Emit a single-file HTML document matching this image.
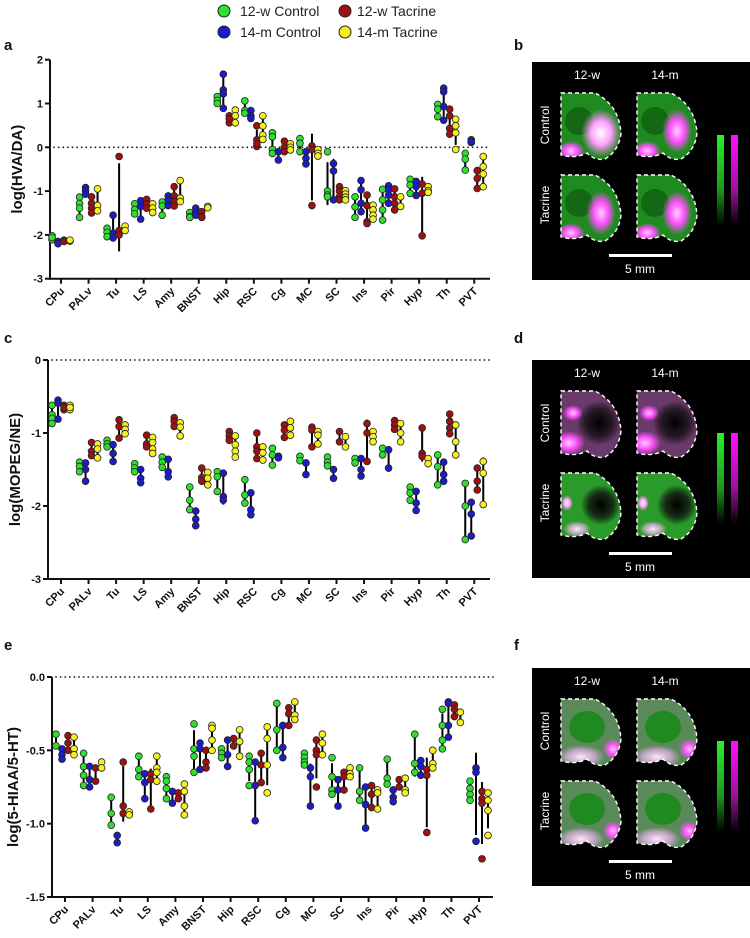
<!DOCTYPE html>
<html><head><meta charset="utf-8"><style>
html,body{margin:0;padding:0;background:#fff;}
svg{display:block;font-family:"Liberation Sans",Arial,sans-serif;}
</style></head><body>
<svg id="fig" width="750" height="938" viewBox="0 0 750 938" xmlns="http://www.w3.org/2000/svg">
<defs>
<linearGradient id="gGreen" x1="0" y1="0" x2="0" y2="1"><stop offset="0" stop-color="#2af02a"/><stop offset="0.6" stop-color="#1a9a1a"/><stop offset="1" stop-color="#000"/></linearGradient>
<linearGradient id="gMag" x1="0" y1="0" x2="0" y2="1"><stop offset="0" stop-color="#ff10ff"/><stop offset="0.6" stop-color="#a010a0"/><stop offset="1" stop-color="#000"/></linearGradient>
<radialGradient id="rMag"><stop offset="0" stop-color="#ffd0ff"/><stop offset="0.5" stop-color="#ff50ff"/><stop offset="1" stop-color="#ff50ff" stop-opacity="0"/></radialGradient>
<radialGradient id="rMagW"><stop offset="0" stop-color="#ffffff"/><stop offset="0.5" stop-color="#ffa0ff"/><stop offset="1" stop-color="#ff80ff" stop-opacity="0"/></radialGradient>
<radialGradient id="rDark"><stop offset="0" stop-color="#000"/><stop offset="0.6" stop-color="#111" stop-opacity="0.8"/><stop offset="1" stop-color="#000" stop-opacity="0"/></radialGradient>
<radialGradient id="rPinkW"><stop offset="0" stop-color="#ffe8ff"/><stop offset="0.6" stop-color="#e8b0e8" stop-opacity="0.7"/><stop offset="1" stop-color="#e0a0e0" stop-opacity="0"/></radialGradient>
</defs>
<g font-size="14" fill="#222">
<circle cx="224" cy="11" r="6" fill="#2ee02e" stroke="#222" stroke-width="1"/><text x="240" y="16">12-w Control</text>
<circle cx="345" cy="11" r="6" fill="#a01010" stroke="#222" stroke-width="1"/><text x="357" y="16">12-w Tacrine</text>
<circle cx="224" cy="32" r="6" fill="#1c1ccc" stroke="#222" stroke-width="1"/><text x="240" y="37">14-m Control</text>
<circle cx="345" cy="32" r="6" fill="#f5f01e" stroke="#222" stroke-width="1"/><text x="357" y="37">14-m Tacrine</text>
</g>
<g font-weight="bold" font-size="15" fill="#111">
<text x="4" y="50">a</text>
<text x="4" y="343">c</text>
<text x="4" y="650">e</text>
<text x="514" y="50">b</text>
<text x="514" y="343">d</text>
<text x="514" y="650">f</text>
</g>
<g id="charts"></g>
<g id="images"></g>
</svg>
<script>
const regions = ["CPu","PALv","Tu","LS","Amy","BNST","Hip","RSC","Cg","MC","SC","Ins","Pir","Hyp","Th","PVT"];
const seriesColors = ["#2ee02e","#1c1ccc","#a01010","#f5f01e"];
const seriesNames = ["12w-control","14m-control","12w-tacrine","14m-tacrine"];

// Panel a: log(HVA/DA)
const hvaG = [[-2.02,-2.11,-2.06],[-1.14,-1.28,-1.39,-1.6],[-1.85,-1.94,-2.04],[-1.29,-1.42,-1.52],[-1.25,-1.34,-1.55],[-1.49,-1.58,-1.6],[1.16,1.07,1.0],[1.06,0.84,0.78],[0.33,0.24,-0.05,-0.14],[0.2,0.09,-0.1],[-0.1,-1.0,-1.09,-1.13],[-1.13,-1.36,-1.6],[-0.96,-1.2,-1.43,-1.66],[-0.73,-0.86,-1.05],[0.98,0.87,0.7],[-0.14,-0.27,-0.52]];
const hvaB = [[-2.15,-2.2],[-0.92,-0.99,-1.07],[-1.55,-1.96,-2.07],[-1.22,-1.35,-1.64],[-1.11,-1.2,-1.33],[-1.39,-1.49,-1.55],[1.67,1.31,1.22,0.89],[0.84,0.72,0.66],[-0.1,-0.29],[-0.1,-0.25,-0.38],[-0.37,-0.54,-1.2],[-0.76,-0.97,-1.28,-1.47],[-0.88,-0.97,-1.09,-1.28],[-0.78,-0.9,-1.1],[1.35,1.27,0.93,0.62],[0.17,0.11,0.13]];
const hvaR = [[-2.12,-2.15],[-1.13,-1.28,-1.39,-1.5],[-0.21,-1.9,-2.0],[-1.19,-1.29,-1.39],[-0.9,-1.11,-1.24,-1.34],[-1.47,-1.58,-1.6],[0.72,0.56,0.65],[0.49,0.17,0.02,0.08],[0.14,0,-0.1],[0.03,-0.05,-1.33],[-0.9,-1.0,-1.13,-1.2],[-1.09,-1.33,-1.7,-1.74],[-0.95,-1.13,-1.28,-1.43],[-0.84,-1.05,-2.02],[0.87,0.72,0.43,0.3],[-0.53,-0.71,-0.94]];
const hvaY = [[-2.14,-2.12],[-0.95,-1.33,-1.45],[-1.8,-1.9],[-1.29,-1.39,-1.49],[-0.76,-1.16,-1.24],[-1.35,-1.38],[0.85,0.72,0.56],[0.72,0.49,0.28,0.18],[0.08,0,-0.06],[-0.05,-0.14,-0.2],[-0.99,-1.07,-1.14,-1.2],[-1.32,-1.43,-1.55,-1.64],[-1.13,-1.35],[-0.9,-0.99,-1.03],[0.64,0.49,0.33,-0.05],[-0.21,-0.44,-0.61,-0.9]];
const hvaTicks = ["2","1","0","-1","-2","-3"];

// Panel c: log(MOPEG/NE)
const mopG = [[-0.62,-0.75,-0.8,-0.87],[-1.4,-1.46,-1.53],[-1.1,-1.15,-1.19],[-1.42,-1.48,-1.53],[-1.33,-1.4,-1.47],[-1.74,-1.92,-2.05],[-1.53,-1.6,-1.8],[-1.64,-1.85,-1.96],[-1.21,-1.3,-1.44],[-1.32,-1.38],[-1.33,-1.4,-1.45],[-1.35,-1.41],[-1.21,-1.3],[-1.74,-1.82,-1.92],[-1.3,-1.46,-1.71],[-1.69,-2.0,-2.46]];
const mopB = [[-0.55,-0.59,-0.81],[-1.41,-1.5,-1.66],[-1.16,-1.28,-1.39],[-1.5,-1.62,-1.68],[-1.36,-1.53,-1.6],[-2.07,-2.18,-2.27],[-1.55,-1.87,-1.92],[-1.82,-2.05,-2.12],[-1.32,-1.34],[-1.41,-1.57],[-1.5,-1.62],[-1.35,-1.5,-1.59],[-1.23,-1.48],[-1.8,-1.96,-2.06],[-1.4,-1.57,-1.66],[-1.95,-2.11,-2.41]];
const mopR = [[-0.62,-0.68,-0.65],[-1.13,-1.25,-1.31],[-0.82,-0.91,-1.07],[-1.03,-1.15,-1.19],[-0.79,-0.84,-0.91],[-1.48,-1.61,-1.66],[-0.98,-1.04,-1.1],[-1.0,-1.19,-1.25,-1.35],[-0.89,-0.96,-1.06],[-0.92,-0.96,-1.19],[-0.98,-1.12],[-0.87,-1.0,-1.39],[-0.83,-0.89,-0.95],[-0.93,-1.28,-1.32],[-0.74,-0.84,-0.93,-1.01],[-1.48,-1.66,-1.78]];
const mopY = [[-0.62,-0.68,-0.65],[-1.15,-1.22,-1.34],[-0.89,-0.95,-1.01],[-1.06,-1.13,-1.22,-1.28],[-0.86,-0.92,-1.04],[-1.54,-1.62,-1.71],[-1.04,-1.16,-1.25,-1.33],[-1.19,-1.27,-1.37],[-0.84,-0.93,-1.03],[-0.98,-1.03,-1.15],[-1.05,-1.19],[-0.98,-1.05,-1.12],[-0.87,-1.0,-1.12],[-1.35,-1.42],[-0.89,-1.12,-1.3],[-1.39,-1.55,-1.98]];
const mopTicks = ["0","-1","-2","-3"];

// Panel e: log(5-HIAA/5-HT)
const hiaG = [[-0.39,-0.47],[-0.52,-0.61,-0.67,-0.74],[-0.82,-0.93,-1.01],[-0.54,-0.63,-0.68],[-0.68,-0.71,-0.76,-0.83],[-0.32,-0.49,-0.54,-0.65],[-0.49,-0.52,-0.55],[-0.54,-0.58,-0.63,-0.74],[-0.18,-0.36,-0.5],[-0.52,-0.55,-0.58,-0.6],[-0.55,-0.68,-0.77,-0.8],[-0.62,-0.78,-0.84],[-0.56,-0.69,-0.73],[-0.39,-0.59,-0.65],[-0.22,-0.33,-0.43,-0.49],[-0.71,-0.76,-0.8,-0.84]];
const hiaB = [[-0.49,-0.53,-0.56],[-0.61,-0.7,-0.75],[-1.08,-1.13],[-0.66,-0.72,-0.83],[-0.78,-0.86],[-0.45,-0.49,-0.63],[-0.43,-0.53,-0.61],[-0.58,-0.74,-0.98],[-0.33,-0.48,-0.55],[-0.62,-0.68,-0.88],[-0.7,-0.77,-0.88],[-0.75,-0.87,-1.03],[-0.77,-0.82,-0.85],[-0.57,-0.61,-0.67],[-0.17,-0.18,-0.33,-0.41],[-0.62,-0.65,-1.12]];
const hiaR = [[-0.4,-0.45,-0.5],[-0.62,-0.71],[-0.58,-0.88,-0.93],[-0.66,-0.7,-0.9],[-0.79,-0.83],[-0.5,-0.58,-0.62],[-0.42,-0.47],[-0.52,-0.6,-0.72],[-0.21,-0.25,-0.33],[-0.43,-0.5,-0.53,-0.75],[-0.65,-0.68,-0.77],[-0.74,-0.8,-0.89],[-0.7,-0.75],[-0.63,-0.67,-1.06],[-0.19,-0.22,-0.27],[-0.78,-0.83,-0.86,-1.24]];
const hiaY = [[-0.41,-0.49,-0.53],[-0.58,-0.62],[-0.92,-0.94],[-0.54,-0.62,-0.65,-0.71],[-0.73,-0.78,-0.88,-0.94],[-0.33,-0.35,-0.43,-0.5],[-0.36,-0.44,-0.54],[-0.34,-0.42,-0.6,-0.79],[-0.17,-0.26,-0.29],[-0.39,-0.45,-0.53],[-0.62,-0.66,-0.68],[-0.77,-0.79,-0.9],[-0.69,-0.77,-0.79],[-0.5,-0.59,-0.62],[-0.24,-0.31],[-0.79,-0.84,-0.91,-1.08]];
const hiaTicks = ["0.0","-0.5","-1.0","-1.5"];

const NS = "http://www.w3.org/2000/svg";
function mk(tag, attrs, parent){ const e=document.createElementNS(NS,tag); for(const k in attrs) e.setAttribute(k,attrs[k]); if(parent) parent.appendChild(e); return e; }

function drawChart(cfg){
  const root = document.getElementById('charts');
  const g = mk('g',{},root);
  
  
  const yScale = v => cfg.yTop + (cfg.vTop - v) / (cfg.vTop - cfg.vBot) * (cfg.yBot - cfg.yTop);
  const xScale = i => cfg.x0 + i * cfg.dx;
  const zl = mk('line',{x1:cfg.axisX+4,x2:cfg.xEnd,y1:yScale(0),y2:yScale(0),stroke:'#222','stroke-width':1.8,'stroke-dasharray':'0.1 4.5','stroke-linecap':'round'},g);
  
  
  const ya = mk('line',{x1:cfg.axisX,x2:cfg.axisX,y1:cfg.yTop,y2:cfg.yBot+1,stroke:'#111','stroke-width':2},g);
  
  
  const xa = mk('line',{x1:cfg.axisX-1,x2:cfg.xEnd,y1:cfg.yBot,y2:cfg.yBot,stroke:'#111','stroke-width':2},g);
  
  
  cfg.ticks.forEach(t=>{
    const v = parseFloat(t); const y = yScale(v);
    mk('line',{x1:cfg.axisX-5,x2:cfg.axisX,y1:y,y2:y,stroke:'#111','stroke-width':2},g);
    const tl = mk('text',{x:cfg.axisX-7,y:y+4,'text-anchor':'end','font-size':11,'font-weight':'bold',fill:'#111'},g);
    tl.textContent = t;
    
    
  });
  const yt = mk('text',{x:0,y:0,transform:`translate(${cfg.titleX},${(cfg.yTop+cfg.yBot)/2}) rotate(-90)`,'text-anchor':'middle','font-size':15,'font-weight':'bold',fill:'#111'},g);
  yt.textContent = cfg.yTitle;
  
  
  regions.forEach((r,i)=>{
    const x = xScale(i);
    mk('line',{x1:x,x2:x,y1:cfg.yBot,y2:cfg.yBot+5,stroke:'#111','stroke-width':2},g);
    const lb = mk('text',{x:0,y:0,transform:`translate(${x+4},${cfg.yBot+13}) rotate(-45)`,'text-anchor':'end','font-size':11,'font-weight':'bold',fill:'#111'},g);
    lb.textContent = r;
    
    
  });
  const offs = [-9,-3,3,9];
  cfg.series.forEach((ser,s)=>{
    const sg = mk('g',{},g);
    
    
    ser.forEach((pts,i)=>{
      const x = xScale(i)+offs[s];
      const m = pts.reduce((a,b)=>a+b,0)/pts.length;
      const sd = Math.sqrt(pts.reduce((a,b)=>a+(b-m)*(b-m),0)/Math.max(1,pts.length-1));
      const eb = mk('line',{x1:x,x2:x,y1:yScale(m+sd),y2:yScale(m-sd),stroke:'#000','stroke-width':2},sg);
      
      
      pts.forEach(v=>{
        const c = mk('circle',{cx:x,cy:yScale(v),r:3.4,fill:seriesColors[s],stroke:'#222','stroke-width':0.8},sg);
        
        
      });
    });
  });
}

drawChart({name:'chart-hva-da',yTitle:'log(HVA/DA)',titleX:22,axisX:50,xEnd:490,yTop:59.7,yBot:278.7,vTop:2,vBot:-3,x0:61,dx:27.55,ticks:hvaTicks,series:[hvaG,hvaB,hvaR,hvaY]});
drawChart({name:'chart-mopeg-ne',yTitle:'log(MOPEG/NE)',titleX:20,axisX:48,xEnd:490,yTop:360,yBot:579,vTop:0,vBot:-3,x0:61,dx:27.55,ticks:mopTicks,series:[mopG,mopB,mopR,mopY]});
drawChart({name:'chart-5hiaa-5ht',yTitle:'log(5-HIAA/5-HT)',titleX:18,axisX:52,xEnd:493,yTop:677,yBot:897,vTop:0,vBot:-1.5,x0:65,dx:27.6,ticks:hiaTicks,series:[hiaG,hiaB,hiaR,hiaY]});

const brainPath = "M0,0 L34,0 Q58,12 60,40 Q58,58 44,66 Q34,68 26,60 Q14,66 0,62 Z";
function brain(parent, tx, ty, style){
  const g = mk('g',{transform:`translate(${tx},${ty})`},parent);
  
  
  const id = 'clip'+Math.round(tx)+'_'+Math.round(ty);
  const cp = mk('clipPath',{id:id},g); mk('path',{d:brainPath},cp);
  const cg = mk('g',{'clip-path':`url(#${id})`},g);
  if(style==='b'){
    mk('rect',{x:0,y:0,width:62,height:70,fill:'#1f8a1f'},cg);
    mk('ellipse',{cx:18,cy:28,rx:14,ry:14,fill:'#146814'},cg);
    mk('ellipse',{cx:40,cy:40,rx:20,ry:24,fill:'url(#rMagW)'},cg);
    mk('ellipse',{cx:10,cy:58,rx:14,ry:10,fill:'url(#rMag)'},cg);
  } else if(style==='b2'){
    mk('rect',{x:0,y:0,width:62,height:70,fill:'#1f8a1f'},cg);
    mk('ellipse',{cx:18,cy:28,rx:14,ry:14,fill:'#146814'},cg);
    mk('ellipse',{cx:40,cy:38,rx:15,ry:22,fill:'url(#rMag)'},cg);
    mk('ellipse',{cx:10,cy:58,rx:14,ry:10,fill:'url(#rMag)'},cg);
  } else if(style==='dc'){
    mk('rect',{x:0,y:0,width:62,height:70,fill:'#6a3a6a'},cg);
    mk('ellipse',{cx:38,cy:32,rx:22,ry:22,fill:'url(#rDark)'},cg);
    mk('ellipse',{cx:8,cy:52,rx:16,ry:12,fill:'url(#rMag)'},cg);
    mk('ellipse',{cx:12,cy:22,rx:10,ry:8,fill:'url(#rMag)'},cg);
  } else if(style==='dt'){
    mk('rect',{x:0,y:0,width:62,height:70,fill:'#2a9a2a'},cg);
    mk('ellipse',{cx:40,cy:32,rx:20,ry:20,fill:'url(#rDark)'},cg);
    mk('ellipse',{cx:6,cy:30,rx:6,ry:8,fill:'url(#rMagW)'},cg);
    mk('ellipse',{cx:16,cy:56,rx:14,ry:8,fill:'url(#rPinkW)'},cg);
  } else {
    mk('rect',{x:0,y:0,width:62,height:70,fill:'#5a8a5a'},cg);
    mk('ellipse',{cx:26,cy:28,rx:18,ry:16,fill:'#1f8a1f'},cg);
    mk('ellipse',{cx:20,cy:58,rx:24,ry:12,fill:'url(#rPinkW)'},cg);
    mk('ellipse',{cx:52,cy:50,rx:10,ry:10,fill:'url(#rMag)'},cg);
  }
  mk('path',{d:brainPath,fill:'none',stroke:'#fff','stroke-width':1.4,'stroke-dasharray':'4 3'},g);
}
function imgPanel(y0, name, styles){
  const root = document.getElementById('images');
  const g = mk('g',{},root);
  
  
  mk('rect',{x:532,y:y0,width:218,height:218,fill:'#000'},g);
  const t1 = mk('text',{x:587,y:y0+17,'text-anchor':'middle','font-size':12,fill:'#fff'},g); t1.textContent='12-w';
   
  const t2 = mk('text',{x:665,y:y0+17,'text-anchor':'middle','font-size':12,fill:'#fff'},g); t2.textContent='14-m';
   
  const r1 = mk('text',{transform:`translate(549,${y0+63}) rotate(-90)`,'text-anchor':'middle','font-size':12,fill:'#fff'},g); r1.textContent='Control';
   
  const r2 = mk('text',{transform:`translate(549,${y0+143}) rotate(-90)`,'text-anchor':'middle','font-size':12,fill:'#fff'},g); r2.textContent='Tacrine';
   
  brain(g,561,y0+31,styles[0]); brain(g,637,y0+31,styles[1]);
  brain(g,561,y0+113,styles[2]); brain(g,637,y0+113,styles[3]);
  const cb1 = mk('rect',{x:717,y:y0+73,width:7,height:91,fill:'url(#gGreen)'},g);
   
  const cb2 = mk('rect',{x:731,y:y0+73,width:7,height:91,fill:'url(#gMag)'},g);
   
  const sb = mk('rect',{x:609,y:y0+192,width:63,height:3,fill:'#fff'},g);
   
  const st = mk('text',{x:640,y:y0+211,'text-anchor':'middle','font-size':12,fill:'#fff'},g); st.textContent='5 mm';
   
}
imgPanel(62,'image-panel-b-hva-da',['b','b2','b2','b2']);
imgPanel(360,'image-panel-d-mopeg-ne',['dc','dc','dt','dt']);
imgPanel(668,'image-panel-f-5hiaa-5ht',['f','f','f','f']);
</script>
</body></html>
